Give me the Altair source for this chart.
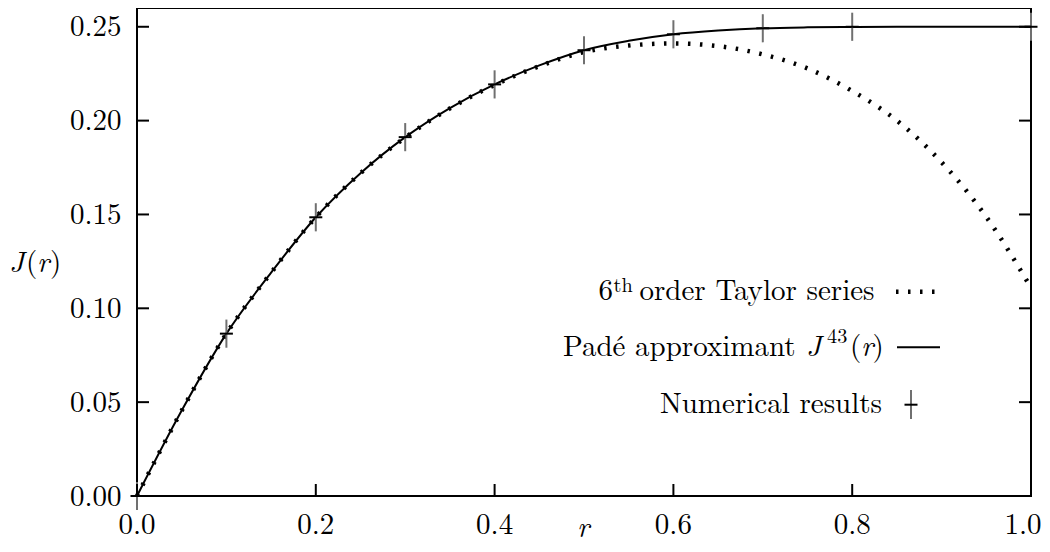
import altair as alt
import pandas as pd

# ---- data ----
r_grid = [0.0, 0.05, 0.10, 0.15, 0.20, 0.25, 0.30, 0.35, 0.40, 0.45, 0.50,
          0.55, 0.60, 0.65, 0.70, 0.75, 0.80, 0.85, 0.90, 0.95, 1.00]
taylor_J = [0.0, 0.0455, 0.0865, 0.1190, 0.1485, 0.1720, 0.1910, 0.2065, 0.2190, 0.2290, 0.2365,
            0.2400, 0.2411, 0.2397, 0.2353, 0.2278, 0.2158, 0.2000, 0.1778, 0.1487, 0.1110]
pade_J = [0.0, 0.0455, 0.0865, 0.1190, 0.1485, 0.1720, 0.1912, 0.2067, 0.2193, 0.2294, 0.2375,
          0.2425, 0.2460, 0.2480, 0.2492, 0.2497, 0.2499, 0.2500, 0.2500, 0.2500, 0.2500]
num_r = [0.0, 0.1, 0.2, 0.3, 0.4, 0.5, 0.6, 0.7, 0.8, 1.0]
num_J = [0.0, 0.0865, 0.1485, 0.1912, 0.2193, 0.2375, 0.2460, 0.2492, 0.2500, 0.2500]
num_err = [0.0075] * len(num_r)
x_ticks = [0.0, 0.2, 0.4, 0.6, 0.8, 1.0]
x_labels = ["0.0", "0.2", "0.4", "0.6", "0.8", "1.0"]
y_ticks = [0.0, 0.05, 0.10, 0.15, 0.20, 0.25]

FONT = "Latin Modern Roman"
FS = 29
SUP = 20.3
W, H = 894, 488
GRAY = "#707070"

taylor_df = pd.DataFrame({"r": r_grid, "J": taylor_J})
pade_df = pd.DataFrame({"r": r_grid, "J": pade_J})
num_df = pd.DataFrame({
    "r": num_r, "J": num_J,
    "lo": [j - e for j, e in zip(num_J, num_err)],
    "hi": [j + e for j, e in zip(num_J, num_err)],
})

xs = alt.Scale(domain=[0, 1], nice=False, zero=False)
ys = alt.Scale(domain=[0, 0.26], nice=False, zero=False)
yax = alt.Axis(values=y_ticks, format=".2f", ticks=False, tickSize=0, domain=False, grid=False,
               labelFont=FONT, labelFontSize=FS, labelColor="black", labelPadding=16,
               labelFlush=False, title=None)
X = alt.X("r:Q", scale=xs, axis=None)
Y = alt.Y("J:Q", scale=ys, axis=yax)

DASH = [2.5, 9.5]

taylor = alt.Chart(taylor_df).mark_line(
    color="black", strokeWidth=4.5, strokeDash=DASH, strokeCap="butt", interpolate="monotone"
).encode(x=X, y=Y)

pade = alt.Chart(pade_df).mark_line(
    color="black", strokeWidth=2, interpolate="monotone"
).encode(x=X, y=Y)

errbars = alt.Chart(num_df).mark_rule(color=GRAY, strokeWidth=2).encode(
    x=X, y=alt.Y("lo:Q", scale=ys, axis=yax), y2="hi:Q")
crossbars = alt.Chart(num_df).mark_rule(color="black", strokeWidth=2, xOffset=-6.5, x2Offset=6.5).encode(
    x=X, x2="r:Q", y=Y)

# inward ticks
ytk = pd.DataFrame({"J": y_ticks})
xtk = pd.DataFrame({"r": x_ticks, "lab": x_labels})
yticks_l = alt.Chart(ytk).mark_rule(color="black", strokeWidth=2).encode(
    y=Y, x=alt.value(0), x2=alt.value(12))
yticks_r = alt.Chart(ytk).mark_rule(color="black", strokeWidth=2).encode(
    y=Y, x=alt.value(W - 12), x2=alt.value(W))
xticks_b = alt.Chart(xtk).mark_rule(color="black", strokeWidth=2).encode(
    x=X, y=alt.value(H), y2=alt.value(H - 12))

# x tick labels (last one nudged in so it stays inside the page)
xlab_main = alt.Chart(xtk).transform_filter("datum.r < 0.99").mark_text(
    font=FONT, fontSize=FS, color="black", align="center", baseline="alphabetic"
).encode(x=X, y=alt.value(H + 38), text="lab:N")
xlab_last = alt.Chart(xtk).transform_filter("datum.r > 0.99").mark_text(
    font=FONT, fontSize=FS, color="black", align="center", baseline="alphabetic", dx=-8
).encode(x=X, y=alt.value(H + 38), text="lab:N")


def txt(s, x, y, size=FS, italic=False, align="left"):
    kw = dict(font=FONT, fontSize=size, align=align, baseline="alphabetic", color="black")
    if italic:
        kw["fontStyle"] = "italic"
    return alt.Chart(pd.DataFrame({"t": [s]})).mark_text(**kw).encode(
        text="t:N", x=alt.value(x), y=alt.value(y))


one = pd.DataFrame({"k": [0]})

legend = [
    # row 1: 6th order Taylor series
    txt("6", 461.5, 292),
    txt("th", 476.5, 283.7, size=SUP),
    txt("order Taylor series", 502.5, 292),
    alt.Chart(one).mark_rule(color="black", strokeWidth=4.5, strokeDash=DASH, strokeCap="butt").encode(
        x=alt.value(759), x2=alt.value(804), y=alt.value(283.7)),
    # row 2: Padé approximant J^43(r)
    txt("Padé approximant", 426, 347.7),
    txt("J", 669, 347.7, italic=True),
    txt("43", 690, 335.3, size=SUP),
    txt("(", 713, 347.7),
    txt("r", 724, 347.7, italic=True),
    txt(")", 735.5, 347.7),
    alt.Chart(one).mark_rule(color="black", strokeWidth=2).encode(
        x=alt.value(760), x2=alt.value(803), y=alt.value(339.3)),
    # row 3: Numerical results
    txt("Numerical results", 745, 405.3, align="right"),
    alt.Chart(one).mark_rule(color=GRAY, strokeWidth=2).encode(
        x=alt.value(774), y=alt.value(382), y2=alt.value(411)),
    alt.Chart(one).mark_rule(color="black", strokeWidth=2).encode(
        x=alt.value(767.5), x2=alt.value(780.5), y=alt.value(396.7)),
]

titles = [
    txt("J", -128, 263.7, italic=True),
    txt("(", -111, 263.7),
    txt("r", -100, 263.7, italic=True),
    txt(")", -87, 263.7),
    txt("r", 446, 529, italic=True, align="center"),
]

chart = alt.layer(
    taylor, pade, errbars, crossbars, yticks_l, yticks_r, xticks_b, xlab_main, xlab_last,
    *legend, *titles
).properties(
    width=W, height=H,
    background="white",
    autosize=alt.AutoSizeParams(type="none"),
    padding={"left": 129, "top": 0, "right": 11, "bottom": 48},
).configure_view(
    stroke="black", strokeWidth=2
)

chart.save("out.html", embed_options={"renderer": "svg", "actions": False})
